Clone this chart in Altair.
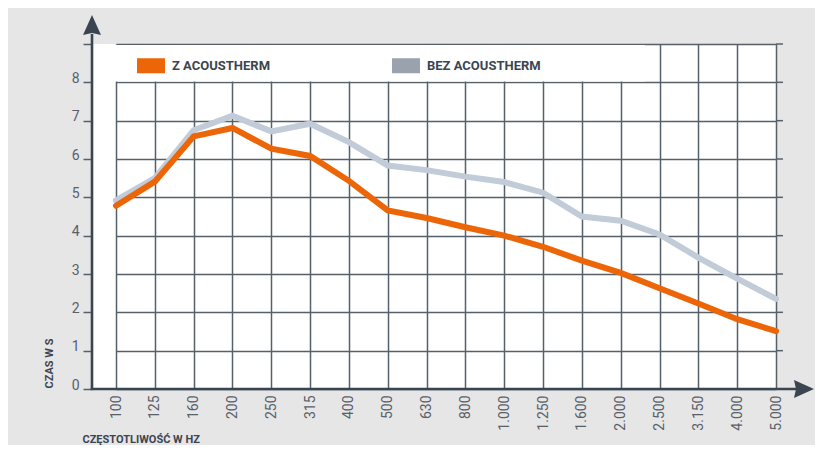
import altair as alt
import pandas as pd

# ---- data ----
freqs = ["100", "125", "160", "200", "250", "315", "400", "500", "630", "800",
         "1.000", "1.250", "1.600", "2.000", "2.500", "3.150", "4.000", "5.000"]
z_vals = [4.78, 5.41, 6.59, 6.81, 6.27, 6.08, 5.43, 4.66, 4.46, 4.22,
          4.00, 3.71, 3.35, 3.03, 2.63, 2.23, 1.82, 1.51]
bez_vals = [4.92, 5.50, 6.75, 7.13, 6.72, 6.92, 6.44, 5.83, 5.71, 5.54,
            5.40, 5.12, 4.50, 4.39, 4.03, 3.43, 2.88, 2.35]
series = ["Z ACOUSTHERM", "BEZ ACOUSTHERM"]
y_ticks = [0, 1, 2, 3, 4, 5, 6, 7, 8, 9]

# ---- styling ----
line_colors = ["#ec6608", "#c2cbd8"]
legend_colors = ["#ec6608", "#9aa3ad"]
axis_color = "#3b4551"
grid_color = "#56606b"
label_color = "#58606a"
bg_color = "#e6e6e6"
W, H = 684, 345

rows = []
for s, vals in zip(series, [z_vals, bez_vals]):
    for f, v in zip(freqs, vals):
        rows.append({"freq": f, "value": v, "series": s})
df = pd.DataFrame(rows)
tick_df = pd.DataFrame({"value": y_ticks})
one = pd.DataFrame({"k": [0]})

x_enc = alt.X(
    "freq:O", sort=freqs,
    scale=alt.Scale(type="point", range=[24, W], padding=0),
    axis=alt.Axis(
        zindex=0,
        grid=True, gridColor=grid_color, gridWidth=1.5,
        domain=False, ticks=False, tickSize=0,
        labelAngle=270, labelFont="Roboto", labelFontSize=14, labelColor=label_color,
        labelPadding=6,
        title="CZĘSTOTLIWOŚĆ W HZ", titleFont="Roboto", titleFontSize=11,
        titleFontWeight="bold", titleColor=axis_color,
        titleX=-10, titleY=50, titleAlign="left", titleBaseline="middle",
    ),
)
y_enc = alt.Y(
    "value:Q",
    scale=alt.Scale(domain=[0, 9], nice=False, zero=True),
    axis=alt.Axis(
        zindex=0,
        values=y_ticks, grid=True, gridColor=grid_color, gridWidth=1.5,
        domain=False, ticks=True, tickColor=grid_color, tickWidth=1.5, tickSize=9,
        labelExpr="datum.value == 9 ? '' : datum.label",
        labelFont="Roboto", labelFontSize=14, labelColor=label_color,
        labelPadding=4, labelBaseline="alphabetic",
        title="CZAS W S", titleFont="Roboto", titleFontSize=11,
        titleFontWeight="bold", titleColor=axis_color, titleAngle=270,
        titleX=-43, titleY=344, titleAlign="left", titleBaseline="middle",
    ),
)

stroke_scale = alt.Scale(domain=series, range=line_colors)

# invisible layer that carries the legend
legend_layer = alt.Chart(df).mark_point(filled=True, opacity=0, size=1).encode(
    x=x_enc, y=y_enc,
    color=alt.Color(
        "series:N",
        scale=alt.Scale(domain=series, range=legend_colors),
        legend=alt.Legend(
            orient="none", legendX=45, legendY=7.5, direction="horizontal",
            columns=2, title=None, padding=0,
            symbolType="M-1,-0.536L1,-0.536L1,0.536L-1,0.536Z",
            symbolSize=784, symbolOpacity=1, symbolStrokeWidth=0,
            labelFont="Roboto", labelFontSize=13, labelFontWeight="bold",
            labelColor=axis_color, labelOffset=7, labelBaseline="middle",
            columnPadding=121,
        ),
    ),
)

# white box behind the legend (covers the top grid row)
legend_box = alt.Chart(one).mark_rect(
    color="white", x=2, x2=553, y=0.9, y2=37.5
).encode(opacity=alt.value(1))

right_ticks = alt.Chart(tick_df).mark_rule(color=grid_color, strokeWidth=1.5).encode(
    y=y_enc, x=alt.value(W), x2=alt.value(W + 7)
)

bez_line = alt.Chart(df).transform_filter(alt.datum.series == series[1]).mark_line(
    strokeWidth=6, strokeCap="round", strokeJoin="miter"
).encode(x=x_enc, y=y_enc, stroke=alt.Stroke("series:N", scale=stroke_scale, legend=None))

z_line = alt.Chart(df).transform_filter(alt.datum.series == series[0]).mark_line(
    strokeWidth=6, strokeCap="round", strokeJoin="miter"
).encode(x=x_enc, y=y_enc, stroke=alt.Stroke("series:N", scale=stroke_scale, legend=None))

y_axis_line = alt.Chart(one).mark_rule(color=axis_color, strokeWidth=2.6).encode(
    x=alt.value(0), y=alt.value(H + 1), y2=alt.value(-10)
)
x_axis_line = alt.Chart(one).mark_rule(color=axis_color, strokeWidth=2.6).encode(
    y=alt.value(H), x=alt.value(-1.3), x2=alt.value(704)
)
y_arrow = alt.Chart(one).mark_point(
    shape="M0,-1L0.9,1L0,0.8L-0.9,1Z", filled=True, size=400,
    color=axis_color, opacity=1, strokeWidth=0
).encode(x=alt.value(0), y=alt.value(-19))
x_arrow = alt.Chart(one).mark_point(
    shape="M1,0L-1,0.9L-0.8,0L-1,-0.9Z", filled=True, size=400,
    color=axis_color, opacity=1, strokeWidth=0
).encode(x=alt.value(712), y=alt.value(H))

chart = alt.layer(
    legend_box, right_ticks, legend_layer, bez_line, z_line,
    y_axis_line, x_axis_line, y_arrow, x_arrow
).properties(
    width=W, height=H,
    autosize=alt.AutoSizeParams(type="none"),
    padding={"left": 84, "top": 36, "right": 39, "bottom": 56},
).configure(
    background=bg_color,
).configure_view(
    fill="white", stroke=None
)

chart.save("out.html", embed_options={"renderer": "svg", "actions": False})
